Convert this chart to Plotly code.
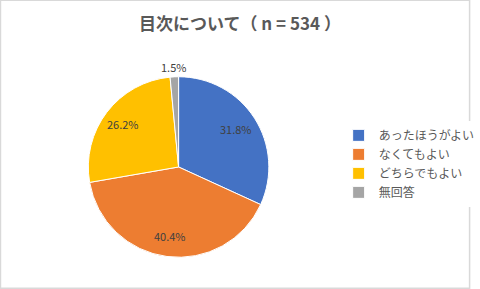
import math
import plotly.graph_objects as go

categories = ["あったほうがよい", "なくてもよい", "どちらでもよい", "無回答"]
values = [31.8, 40.4, 26.2, 1.5]
colors = ["#4472C4", "#ED7D31", "#FFC000", "#A5A5A5"]
text_labels = [f"{v:.1f}%" for v in values]
label_radius = [0.76, 0.76, 0.77, 1.09]  # fraction of pie radius

W, H = 480, 289
dom_x = [0.1875, 0.5708]
dom_y = [0.1038, 0.7405]

fig = go.Figure()
fig.add_trace(go.Pie(
    labels=categories,
    values=values,
    textinfo="none",
    marker=dict(colors=colors, line=dict(color="white", width=1)),
    sort=False,
    direction="clockwise",
    rotation=0,
    domain=dict(x=dom_x, y=dom_y),
    hoverinfo="label+percent",
))

# data labels placed along each slice's bisector
cx = (dom_x[0] + dom_x[1]) / 2 * W
cy = (dom_y[0] + dom_y[1]) / 2 * H
R = min((dom_x[1] - dom_x[0]) * W, (dom_y[1] - dom_y[0]) * H) / 2
total = sum(values)
cum = 0.0
annotations = []
for v, t, f in zip(values, text_labels, label_radius):
    mid = (cum + v / 2) / total * 2 * math.pi
    cum += v
    px = cx + f * R * math.sin(mid)
    py = cy + f * R * math.cos(mid)
    annotations.append(dict(
        x=px / W, y=py / H, xref="paper", yref="paper", text=t, showarrow=False,
        xanchor="center", yanchor="middle",
        font=dict(size=11, color="#404040", family="Noto Sans CJK JP"),
    ))

fig.update_layout(
    width=W, height=H,
    margin=dict(l=0, r=0, t=0, b=0),
    paper_bgcolor="white",
    plot_bgcolor="white",
    title=dict(
        text="<b>目次について（ n = 534 ）</b>",
        x=0.5, xanchor="center", y=0.917, yanchor="middle",
        font=dict(size=17, color="#595959", family="Noto Sans CJK JP"),
    ),
    legend=dict(
        x=0.719, y=0.433, xanchor="left", yanchor="middle",
        font=dict(size=12, color="#595959", family="Noto Sans CJK JP"),
        itemwidth=30,
    ),
    annotations=annotations,
    shapes=[dict(type="rect", xref="paper", yref="paper", x0=0.001, y0=0.003, x1=0.997, y1=0.999,
                 line=dict(color="#D9D9D9", width=1.5))],
)

fig.write_html("out.html")
